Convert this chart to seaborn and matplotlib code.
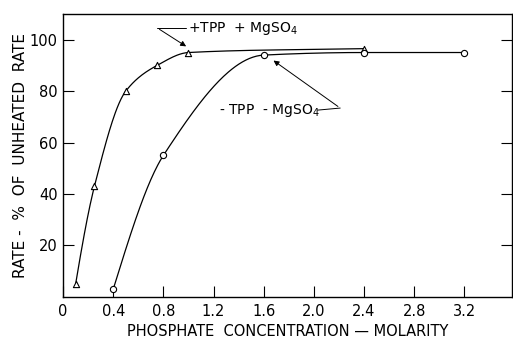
import numpy as np
import pandas as pd
import matplotlib
matplotlib.use("Agg")
import matplotlib.pyplot as plt
import seaborn as sns

# Data
tpp_x = [0.1, 0.25, 0.5, 0.75, 1.0, 2.4]
tpp_y = [5, 43, 80, 90, 95, 96.5]
ctl_x = [0.4, 0.8, 1.6, 2.4, 3.2]
ctl_y = [3, 55, 94, 95, 95]
x_ticks = [0, 0.4, 0.8, 1.2, 1.6, 2.0, 2.4, 2.8, 3.2]
x_tick_labels = ["0", "0.4", "0.8", "1.2", "1.6", "2.0", "2.4", "2.8", "3.2"]
y_ticks = [20, 40, 60, 80, 100]
y_tick_labels = ["20", "40", "60", "80", "100"]


def pchip(x, y, xs):
    x = np.asarray(x, float); y = np.asarray(y, float)
    h = np.diff(x); d = np.diff(y) / h
    m = np.zeros_like(y)
    m[0] = ((2 * h[0] + h[1]) * d[0] - h[0] * d[1]) / (h[0] + h[1])
    m[-1] = d[-1]
    for k in range(1, len(x) - 1):
        if d[k - 1] * d[k] > 0:
            w1 = 2 * h[k] + h[k - 1]; w2 = h[k] + 2 * h[k - 1]
            m[k] = (w1 + w2) / (w1 / d[k - 1] + w2 / d[k])
    out = np.empty_like(xs)
    for i, xv in enumerate(xs):
        k = min(max(np.searchsorted(x, xv) - 1, 0), len(x) - 2)
        t = (xv - x[k]) / h[k]
        h00 = 2*t**3 - 3*t**2 + 1; h10 = t**3 - 2*t**2 + t
        h01 = -2*t**3 + 3*t**2; h11 = t**3 - t**2
        out[i] = h00*y[k] + h10*h[k]*m[k] + h01*y[k+1] + h11*h[k]*m[k+1]
    return out


sns.set_theme(style="ticks")
plt.rcParams["font.family"] = ["DejaVu Sans"]
plt.rcParams["text.color"] = "black"
plt.rcParams["axes.labelcolor"] = "black"

fig = plt.figure(figsize=(5.13, 3.40), dpi=100)
ax = fig.add_axes([0.123, 0.127, 0.875, 0.832])

for xs_, ys_, mk in [(tpp_x, tpp_y, "^"), (ctl_x, ctl_y, "o")]:
    xx = np.linspace(xs_[0], xs_[-1], 300)
    yy = pchip(xs_, ys_, xx)
    sns.lineplot(x=xx, y=yy, ax=ax, color="black", lw=0.9, legend=False)
    sns.scatterplot(x=xs_, y=ys_, ax=ax, marker=mk, s=20, facecolor="white",
                    edgecolor="black", linewidth=0.8, zorder=3, legend=False)

ax.set_xlim(0, 3.58)
ax.set_ylim(0, 110)
ax.set_xticks(x_ticks)
ax.set_xticklabels(x_tick_labels)
ax.set_yticks(y_ticks)
ax.set_yticklabels(y_tick_labels)
ax.tick_params(direction="in", length=8, width=0.8, labelsize=10.5, colors="black",
               right=True, pad=4)
ax.tick_params(axis="x", pad=5)
for s in ax.spines.values():
    s.set_visible(True)
    s.set_linewidth(1.0)
    s.set_color("black")

ax.set_xlabel("PHOSPHATE  CONCENTRATION — MOLARITY", fontsize=10.5, labelpad=4)
ax.set_ylabel("RATE -  %  OF  UNHEATED  RATE", fontsize=11, labelpad=1)

# Annotations
ax.text(1.0, 104.5, "+TPP  + MgSO$_4$", fontsize=10, va="center", ha="left", color="black")
ax.plot([0.75, 0.98], [104.6, 104.6], color="black", lw=0.7)
ax.annotate("", xy=(1.0, 96.8), xytext=(0.75, 104.6),
            arrowprops=dict(arrowstyle="-|>", color="black", lw=0.7, mutation_scale=8))

ax.text(1.24, 72.5, "- TPP  - MgSO$_4$", fontsize=10, va="center", ha="left", color="black")
ax.plot([2.03, 2.21], [72.6, 73.4], color="black", lw=0.7)
ax.annotate("", xy=(1.66, 92.5), xytext=(2.21, 73.4),
            arrowprops=dict(arrowstyle="-|>", color="black", lw=0.7, mutation_scale=8))

fig.savefig("out.png", dpi=100)
